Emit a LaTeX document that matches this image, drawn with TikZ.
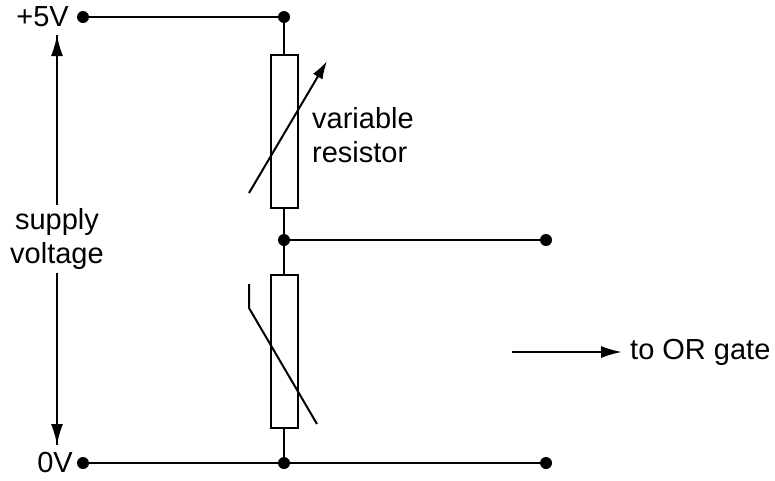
\documentclass[tikz,border=0pt]{standalone}
\usepackage{fontspec}
\setmainfont{Liberation Sans}
\usetikzlibrary{arrows.meta}
\tikzset{
  wire/.style={black,line width=2pt},
  dot/.style={circle,fill=black,inner sep=0pt,minimum size=12pt},
  lbl/.style={font=\fontsize{29}{34}\selectfont,inner sep=0pt},
  tip/.style={-{Latex[length=21pt,width=12pt]}}
}

\begin{document}
\begin{tikzpicture}[x=1pt,y=-1pt]
\useasboundingbox (0,0) rectangle (775,480);

% rails
\node[dot] (plus) at (83,17) {};
\node[dot] (zero) at (83,463) {};
\node[dot] (top) at (284,17) {};
\node[dot] (mid) at (284,240) {};
\node[dot] (bot) at (284,463) {};
\node[dot] (out) at (546,240) {};
\node[dot] (gnd) at (546,463) {};

\node[lbl,anchor=east] (vplus) at (69,17) {+5V};
\node[lbl,anchor=east] (vzero) at (73,463) {0V};

% resistors
\node[draw,line width=2pt,minimum width=27pt,minimum height=153pt,inner sep=0pt] (rvar) at (284,131) {};
\node[draw,line width=2pt,minimum width=27pt,minimum height=153pt,inner sep=0pt] (rth) at (284,351) {};

\draw[wire] (plus) -- (top) -- (rvar.north);
\draw[wire] (rvar.south) -- (mid) -- (rth.north);
\draw[wire] (rth.south) -- (bot);
\draw[wire] (mid) -- (out);
\draw[wire] (zero) -- (bot) -- (gnd);

% variable resistor arrow
\coordinate (va) at (249,193);
\coordinate (vb) at (327,61);
\draw[wire,-{Latex[length=18pt,width=11pt]}] (va) -- (vb);
\node[lbl,anchor=west,align=left] (rname) at (312,135) {variable\\resistor};

% thermistor line
\coordinate (ta) at (249,284);
\coordinate (tb) at (249,308);
\coordinate (tc) at (317,424);
\draw[wire] (ta) -- (tb) -- (tc);

% supply voltage
\coordinate (sv1) at (57,35);
\coordinate (sv2) at (57,445);
\draw[wire,tip] (sv1) -- (sv2);
\draw[wire,tip] (sv2) -- (sv1);
\node[lbl,fill=white,align=center,inner sep=3pt] (supply) at (57,239) {supply\\voltage};

% output
\coordinate (oa) at (512,352);
\coordinate (ob) at (622,352);
\draw[wire,tip] (oa) -- (ob);
\node[lbl,anchor=west] (gate) at (630,352) {to OR gate};

\end{tikzpicture}
\end{document}
